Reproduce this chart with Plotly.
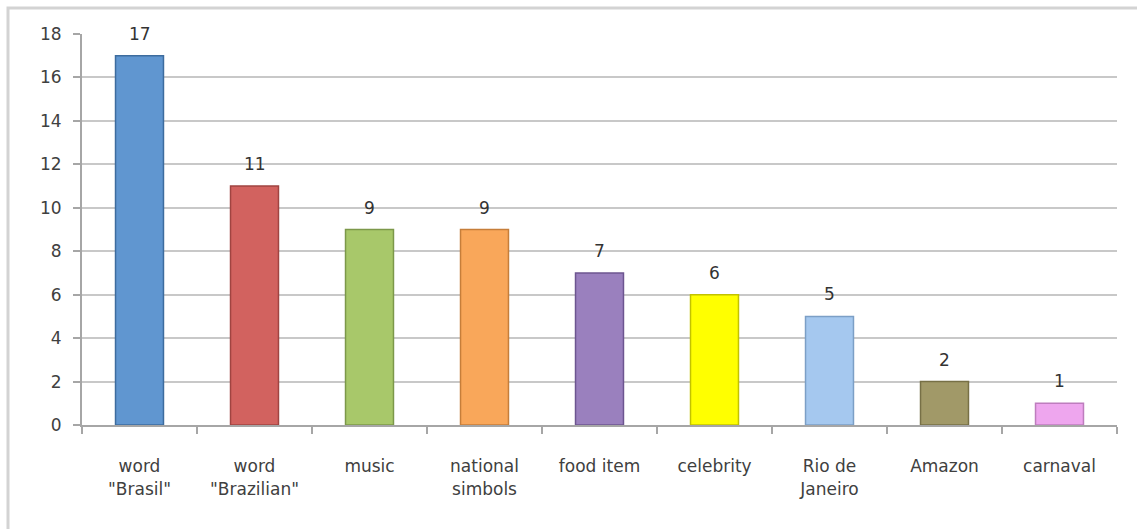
import plotly.graph_objects as go

categories = ['word<br>"Brasil"', 'word<br>"Brazilian"', 'music', 'national<br>simbols',
              'food item', 'celebrity', 'Rio de<br>Janeiro', 'Amazon', 'carnaval']
values = [17, 11, 9, 9, 7, 6, 5, 2, 1]
fill_colors = ['#6096D0', '#D2625F', '#A8C86A', '#F9A75A', '#9A80BE',
               '#FFFF00', '#A5C8EF', '#A19968', '#EEA6EE']
line_colors = ['#3D6C9E', '#A04441', '#7C984A', '#C67E3A', '#6D5590',
               '#C2C200', '#7C9FC6', '#777046', '#BE7DBE']
y_ticks = [0, 2, 4, 6, 8, 10, 12, 14, 16, 18]

fig = go.Figure()
fig.add_trace(go.Bar(
    x=categories, y=values,
    marker=dict(color=fill_colors, line=dict(color=line_colors, width=1.5)),
    hoverinfo='x+y',
))

for c, v in zip(categories, values):
    fig.add_annotation(x=c, y=v, text=str(v), showarrow=False,
                       yanchor='bottom', yshift=10,
                       font=dict(family='DejaVu Sans', size=17, color='#333333'))

fig.add_shape(type='rect', xref='paper', yref='paper',
              x0=-0.0715, x1=1.2, y0=-0.6, y1=1.0665,
              line=dict(color='#D3D3D3', width=3), layer='below')

fig.update_layout(
    width=1137, height=529,
    margin=dict(l=82, r=20, t=34, b=104),
    paper_bgcolor='white', plot_bgcolor='white',
    bargap=0.583,
    showlegend=False,
    font=dict(family='DejaVu Sans', size=17, color='#404040'),
)
fig.update_xaxes(
    type='category', showgrid=False, showline=True, linecolor='#A6A6A6', linewidth=2,
    ticks='outside', tickson='boundaries', ticklen=7, tickcolor='#A6A6A6', tickwidth=1.5,
    ticklabelstandoff=25, tickfont=dict(size=17, color='#404040'),
)
fig.update_yaxes(
    range=[0, 18], tickvals=y_ticks, showgrid=True, gridcolor='#C8C8C8', gridwidth=2,
    showline=True, linecolor='#A6A6A6', linewidth=2, zeroline=False,
    ticks='outside', ticklen=7, tickcolor='#A6A6A6', tickwidth=1.5,
    ticklabelstandoff=8, tickfont=dict(size=17, color='#404040'),
)

fig.write_html('out.html')
